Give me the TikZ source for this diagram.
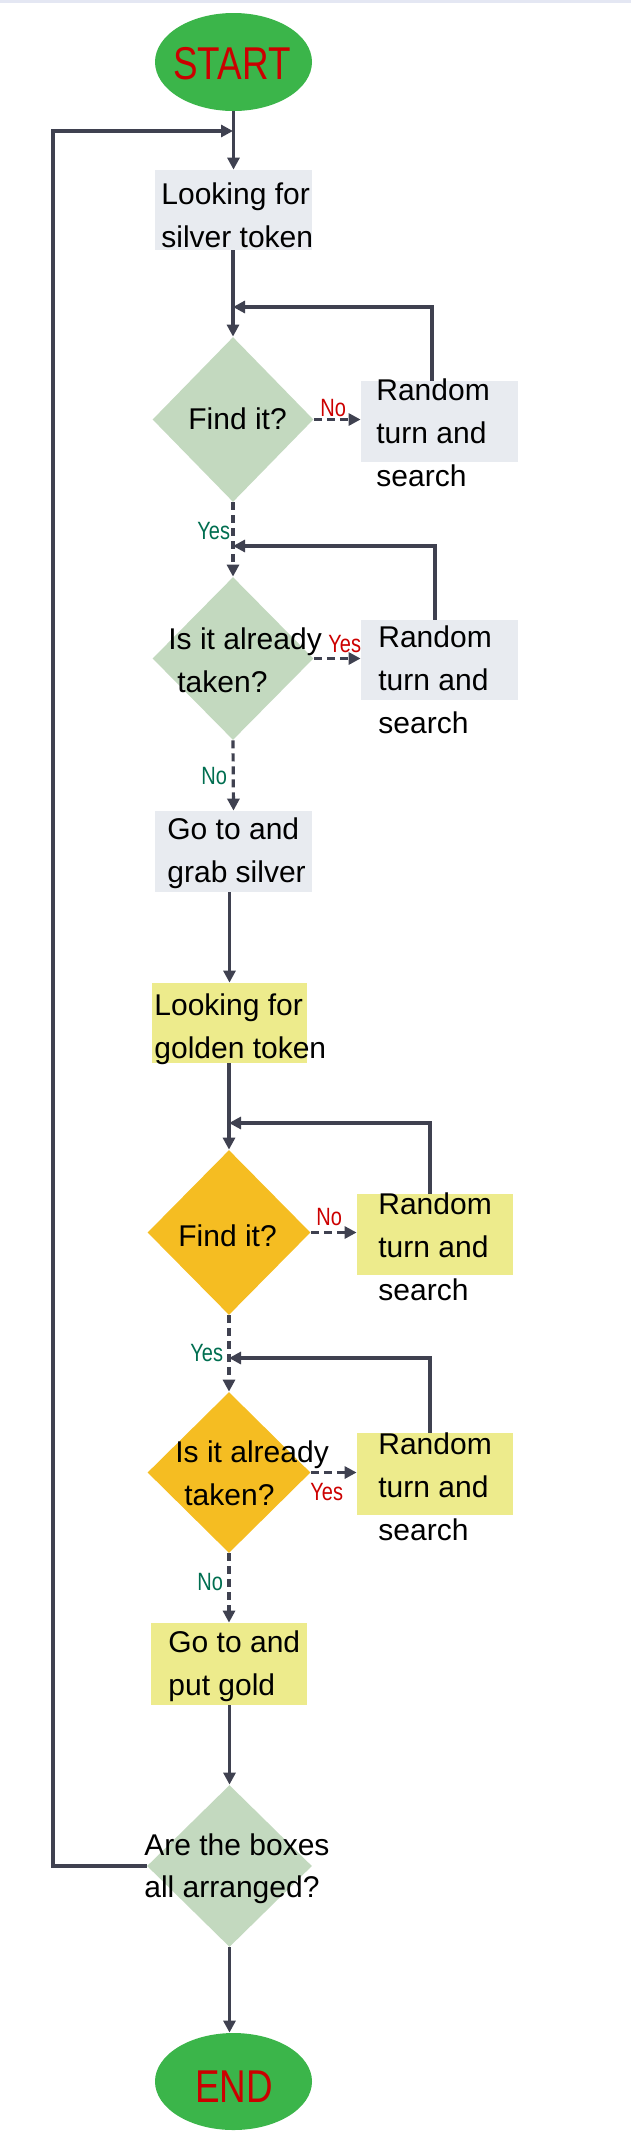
\documentclass[tikz,border=0pt]{standalone}
\usepackage{fontspec}
\setmainfont{Liberation Sans}
\newfontfamily\narrowfont[FakeStretch=0.8]{Liberation Sans}
\usetikzlibrary{arrows.meta,shapes.geometric}
\definecolor{startgreen}{RGB}{59,181,74}
\definecolor{redc}{RGB}{204,0,0}
\definecolor{greenc}{RGB}{0,110,80}
\definecolor{silverfill}{RGB}{232,235,240}
\definecolor{sage}{RGB}{195,217,191}
\definecolor{yellowfill}{RGB}{237,235,140}
\definecolor{orangefill}{RGB}{245,189,34}
\definecolor{linec}{RGB}{63,65,80}
\definecolor{topline}{RGB}{228,231,243}
\begin{document}
\begin{tikzpicture}[x=0.5pt,y=-0.5pt,
  sbox/.style={rectangle, fill=silverfill, inner sep=0, minimum width=78.5pt, minimum height=40.5pt},
  ybox/.style={rectangle, fill=yellowfill, inner sep=0, minimum width=78pt, minimum height=40.5pt},
  gdia/.style={diamond, fill=sage, inner sep=0},
  odia/.style={diamond, fill=orangefill, inner sep=0},
  oval/.style={ellipse, fill=startgreen, inner sep=0, minimum width=78.5pt, minimum height=49pt},
  txt/.style={anchor=north west, inner sep=0, align=left, font=\fontsize{15}{21.5}\selectfont},
  bigred/.style={anchor=north west, inner sep=0, text=redc, font=\narrowfont\fontsize{23}{26}\selectfont},
  lab/.style={anchor=north west, inner sep=0, font=\narrowfont\fontsize{12.5}{15}\selectfont},
  labred/.style={lab, text=redc},
  labgreen/.style={lab, text=greenc},
  conn/.style={draw=linec, line width=1.6pt},
  arr/.style={conn, -{Triangle[length=6pt,width=6pt]}},
  darr/.style={arr, dash pattern=on 4pt off 2.5pt}
]
\useasboundingbox (0,0) rectangle (631,2153);
\fill[topline] (0,0) rectangle (631,3);

% shapes
\node[oval] (start) at (233.5,62) {};
\node[sbox, minimum height=40pt] (look1) at (233.5,210) {};
\node[gdia, minimum width=80.5pt, minimum height=82.5pt] (d1) at (233,419.5) {};
\node[sbox] (r1) at (439.5,421.5) {};
\node[gdia, minimum width=80.5pt, minimum height=81.5pt] (d2) at (233,658.5) {};
\node[sbox, minimum height=40pt] (r2) at (439.5,660) {};
\node[sbox] (go1) at (233.5,851.5) {};
\node[ybox, minimum width=77.5pt, minimum height=40pt] (look2) at (229.5,1023) {};
\node[odia, minimum width=81.5pt, minimum height=82.5pt] (d3) at (229,1232.5) {};
\node[ybox] (r3) at (435,1234.5) {};
\node[odia, minimum width=81.5pt, minimum height=80.5pt] (d4) at (229,1472.5) {};
\node[ybox, minimum height=41pt] (r4) at (435,1474) {};
\node[ybox, minimum height=41pt] (go2) at (229,1664) {};
\node[gdia, minimum width=82.5pt, minimum height=81pt] (d5) at (229.5,1866) {};
\node[oval, minimum height=48.5pt] (end) at (233.5,2081.5) {};

% junctions
\coordinate (j0) at (233,131);
\coordinate (j1) at (233,307);
\coordinate (j2) at (233,546);
\coordinate (j3) at (229,1123);
\coordinate (j4) at (229,1358);
\coordinate (lft) at (53,131);

% connectors
\draw[arr] (start.south -| look1.north) -- (look1.north);
\draw[arr] (look1.south -| d1.north) -- (d1.north);
\draw[arr] ([xshift=-3.75pt]r1.north) |- (j1);
\draw[darr] (d1.east) -- (r1.west |- d1.east);
\draw[darr] (d1.south) -- (d2.north);
\draw[arr] ([xshift=-2.25pt]r2.north) |- (j2);
\draw[darr] (d2.east) -- (r2.west |- d2.east);
\draw[darr] (d2.south) -- (go1.north);
\draw[arr] (go1.south -| look2.north) -- (look2.north);
\draw[arr] (look2.south -| d3.north) -- (d3.north);
\draw[arr] ([xshift=-2.5pt]r3.north) |- (j3);
\draw[darr] (d3.east) -- (r3.west |- d3.east);
\draw[darr] (d3.south) -- (d4.north);
\draw[arr] ([xshift=-2.5pt]r4.north) |- (j4);
\draw[darr] (d4.east) -- (r4.west |- d4.east);
\draw[darr] (d4.south) -- (go2.north -| d4.south);
\draw[arr] (go2.south -| d5.north) -- (d5.north);
\draw[arr] (d5.south) -- (d5.south |- end.north);
\draw[arr] (d5.west) -| (lft) -- (j0);

% texts
\node[bigred] (tstart) at (173,47) {START};
\node[txt] (tlook1) at (161,182) {Looking for\\silver token};
\node[txt] (td1) at (188,407) {Find it?};
\node[txt] (tr1) at (376,378) {Random\\turn and\\search};
\node[txt] (td2) at (168,627) {Is it already\\\hspace*{4.5pt}taken?};
\node[txt] (tr2) at (378,625) {Random\\turn and\\search};
\node[txt] (tgo1) at (167,817) {Go to and\\grab silver};
\node[txt] (tlook2) at (154,993) {Looking for\\golden token};
\node[txt] (td3) at (178,1224) {Find it?};
\node[txt] (tr3) at (378,1192) {Random\\turn and\\search};
\node[txt] (td4) at (175,1440) {Is it already\\\hspace*{4.5pt}taken?};
\node[txt] (tr4) at (378,1432) {Random\\turn and\\search};
\node[txt] (tgo2) at (168,1630) {Go to and\\put gold};
\node[txt, font=\fontsize{15}{21}\selectfont] (td5) at (144,1833) {Are the boxes\\all arranged?};
\node[bigred] (tend) at (195,2070) {END};

% labels
\node[labred] (noA) at (320,399) {No};
\node[labgreen] (yesA) at (197,522) {Yes};
\node[labred] (yesB) at (328,635) {Yes};
\node[labgreen] (noB) at (201,767) {No};
\node[labred] (noC) at (316,1208) {No};
\node[labgreen] (yesC) at (190,1344) {Yes};
\node[labred] (yesD) at (310,1483) {Yes};
\node[labgreen] (noD) at (197,1573) {No};
\end{tikzpicture}
\end{document}
